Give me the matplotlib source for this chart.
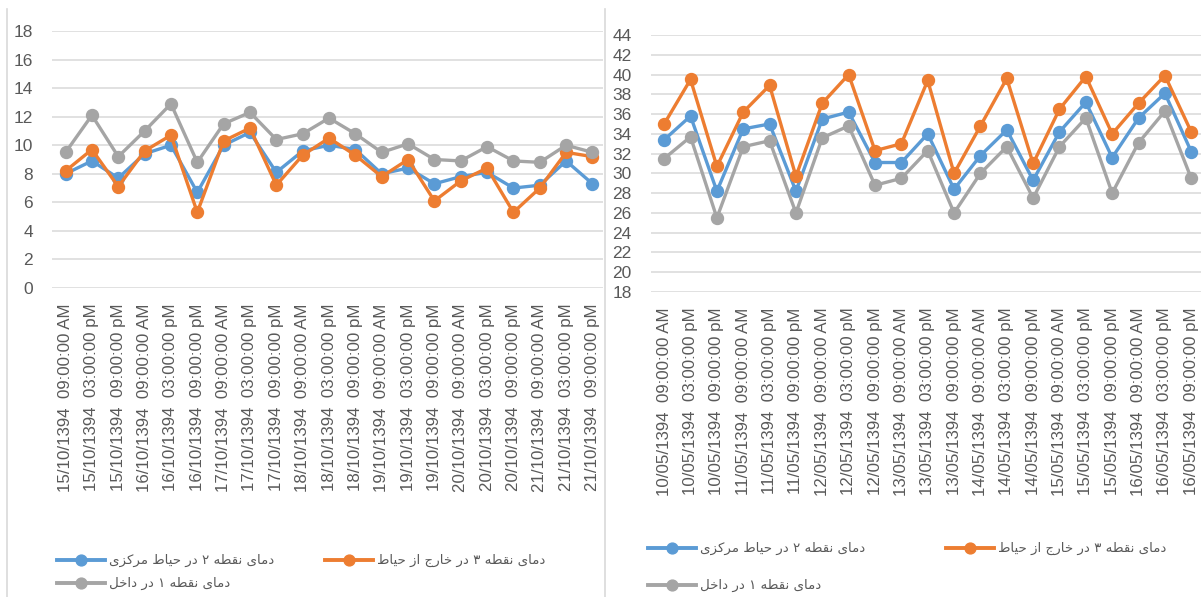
import matplotlib
matplotlib.use("Agg")
import matplotlib.pyplot as plt
from matplotlib.lines import Line2D
from matplotlib.patches import Rectangle

# ---------------- data ----------------
left_labels = [
    "15/10/1394  09:00:00 AM", "15/10/1394  03:00:00 pM", "15/10/1394  09:00:00 pM",
    "16/10/1394  09:00:00 AM", "16/10/1394  03:00:00 pM", "16/10/1394  09:00:00 pM",
    "17/10/1394  09:00:00 AM", "17/10/1394  03:00:00 pM", "17/10/1394  09:00:00 pM",
    "18/10/1394  09:00:00 AM", "18/10/1394  03:00:00 pM", "18/10/1394  09:00:00 pM",
    "19/10/1394  09:00:00 AM", "19/10/1394  03:00:00 pM", "19/10/1394  09:00:00 pM",
    "20/10/1394  09:00:00 AM", "20/10/1394  03:00:00 pM", "20/10/1394  09:00:00 pM",
    "21/10/1394  09:00:00 AM", "21/10/1394  03:00:00 pM", "21/10/1394  09:00:00 pM",
]
left_p2 = [8.0, 8.9, 7.7, 9.4, 10.0, 6.7, 10.0, 10.9, 8.1, 9.6, 10.0,
           9.7, 8.0, 8.4, 7.3, 7.8, 8.1, 7.0, 7.2, 8.9, 7.3]
left_p3 = [8.2, 9.7, 7.1, 9.6, 10.7, 5.3, 10.3, 11.2, 7.2, 9.3, 10.5,
           9.3, 7.8, 9.0, 6.1, 7.5, 8.4, 5.3, 7.0, 9.5, 9.2]
left_p1 = [9.5, 12.1, 9.2, 11.0, 12.9, 8.8, 11.5, 12.3, 10.4, 10.8, 11.9,
           10.8, 9.5, 10.1, 9.0, 8.9, 9.9, 8.9, 8.8, 10.0, 9.5]

right_labels = [
    "10/05/1394  09:00:00 AM", "10/05/1394  03:00:00 pM", "10/05/1394  09:00:00 pM",
    "11/05/1394  09:00:00 AM", "11/05/1394  03:00:00 pM", "11/05/1394  09:00:00 pM",
    "12/05/1394  09:00:00 AM", "12/05/1394  03:00:00 pM", "12/05/1394  09:00:00 pM",
    "13/05/1394  09:00:00 AM", "13/05/1394  03:00:00 pM", "13/05/1394  09:00:00 pM",
    "14/05/1394  09:00:00 AM", "14/05/1394  03:00:00 pM", "14/05/1394  09:00:00 pM",
    "15/05/1394  09:00:00 AM", "15/05/1394  03:00:00 pM", "15/05/1394  09:00:00 pM",
    "16/05/1394  09:00:00 AM", "16/05/1394  03:00:00 pM", "16/05/1394  09:00:00 pM",
]
right_p2 = [33.4, 35.8, 28.2, 34.5, 35.0, 28.2, 35.5, 36.2, 31.1, 31.1, 34.0,
            28.4, 31.8, 34.4, 29.3, 34.2, 37.2, 31.6, 35.6, 38.1, 32.2]
right_p3 = [35.0, 39.5, 30.7, 36.2, 38.9, 29.7, 37.1, 40.0, 32.3, 33.0, 39.4,
            30.0, 34.8, 39.6, 31.0, 36.5, 39.8, 34.0, 37.1, 39.9, 34.2]
right_p1 = [31.5, 33.7, 25.5, 32.7, 33.3, 26.0, 33.6, 34.8, 28.8, 29.5, 32.3,
            26.0, 30.0, 32.7, 27.5, 32.7, 35.6, 28.0, 33.1, 36.3, 29.5]

left_yticks = list(range(0, 19, 2))
right_yticks = list(range(18, 45, 2))

series_names = ["دمای نقطه ۲ در حیاط مرکزی", "دمای نقطه ۳ در خارج از حیاط", "دمای نقطه ۱ در داخل"]
series_colors = ["#5B9BD5", "#ED7D31", "#A5A5A5"]

# ---------------- minimal Persian shaping (logical -> visual) ----------------
FORMS = {
    '\u0627': ('\uFE8D', '\uFE8E', None, None),
    '\u062F': ('\uFEA9', '\uFEAA', None, None),
    '\u0631': ('\uFEAD', '\uFEAE', None, None),
    '\u0632': ('\uFEAF', '\uFEB0', None, None),
    '\u0645': ('\uFEE1', '\uFEE2', '\uFEE3', '\uFEE4'),
    '\u06CC': ('\uFBFC', '\uFBFD', '\uFBFE', '\uFBFF'),
    '\u0646': ('\uFEE5', '\uFEE6', '\uFEE7', '\uFEE8'),
    '\u0642': ('\uFED5', '\uFED6', '\uFED7', '\uFED8'),
    '\u0637': ('\uFEC1', '\uFEC2', '\uFEC3', '\uFEC4'),
    '\u0647': ('\uFEE9', '\uFEEA', '\uFEEB', '\uFEEC'),
    '\u062D': ('\uFEA1', '\uFEA2', '\uFEA3', '\uFEA4'),
    '\u06A9': ('\uFB8E', '\uFB8F', '\uFB90', '\uFB91'),
    '\u062E': ('\uFEA5', '\uFEA6', '\uFEA7', '\uFEA8'),
    '\u062C': ('\uFE9D', '\uFE9E', '\uFE9F', '\uFEA0'),
    '\u0644': ('\uFEDD', '\uFEDE', '\uFEDF', '\uFEE0'),
}


def shape(s):
    out = []
    n = len(s)
    for i, c in enumerate(s):
        if c not in FORMS:
            out.append(c)
            continue
        f = FORMS[c]
        prev = s[i - 1] if i > 0 else ''
        nxt = s[i + 1] if i + 1 < n else ''
        jp = prev in FORMS and FORMS[prev][2] is not None
        jn = f[2] is not None and nxt in FORMS
        if jp and jn:
            out.append(f[3])
        elif jp:
            out.append(f[1])
        elif jn:
            out.append(f[2])
        else:
            out.append(f[0])
    return ''.join(out)[::-1]


# ---------------- figure ----------------
W, H = 1201, 597
fig = plt.figure(figsize=(W / 100, H / 100), dpi=100)
fig.patch.set_facecolor("white")

TICK_COLOR = "#595959"
GRID_COLOR = "#D9D9D9"
FONT = "Liberation Sans"


def px_axes(l, r, top, bottom):
    return [l / W, 1 - bottom / H, (r - l) / W, (bottom - top) / H]


def style_axes(ax, labels, yticks, ylim, xmax):
    ax.set_xlim(-0.5, xmax)
    ax.set_ylim(*ylim)
    ax.set_yticks(yticks)
    ax.set_xticks(range(len(labels)))
    ax.set_xticklabels(labels, rotation=90, va="top", ha="center",
                       fontsize=12.2, family=FONT, color=TICK_COLOR)
    for t in ax.get_yticklabels():
        t.set_fontsize(12.5)
        t.set_family(FONT)
        t.set_color(TICK_COLOR)
    ax.tick_params(axis="x", length=0, pad=11)
    ax.tick_params(axis="y", length=0, pad=14)
    ax.grid(axis="y", color=GRID_COLOR, linewidth=1.1)
    ax.set_axisbelow(True)
    for sp in ax.spines.values():
        sp.set_visible(False)


def plot_series(ax, p2, p3, p1):
    x = range(len(p2))
    for vals, col in zip([p2, p3, p1], series_colors):
        ax.plot(x, vals, color=col, linewidth=2.4, marker="o", markersize=8.6,
                markerfacecolor=col, markeredgecolor=col, solid_joinstyle="miter")


# left chart
axL = fig.add_axes(px_axes(52.4, 603, 31, 288))
axL.set_zorder(1)
plot_series(axL, left_p2, left_p3, left_p1)
style_axes(axL, left_labels, left_yticks, (0, 18), 20.4)

# white separator covering between charts
fig.add_artist(Rectangle((603 / W, 0), (651 - 603) / W, 1, transform=fig.transFigure,
                         facecolor="white", edgecolor="none", zorder=2))

# right chart
axR = fig.add_axes(px_axes(651, 1201, 35, 292))
axR.set_zorder(3)
plot_series(axR, right_p2, right_p3, right_p1)
style_axes(axR, right_labels, right_yticks, (18, 44), 20.37)

# chart borders
for xb in (6.7, 605):
    fig.add_artist(Line2D([xb / W, xb / W], [0, 1 - 9 / H], transform=fig.transFigure,
                          color="#D9D9D9", linewidth=1.2, zorder=4))


# ---------------- legends ----------------
def legend_entry(x0, y, color, text):
    xs = [x0 / W, (x0 + 48) / W]
    yy = 1 - y / H
    fig.add_artist(Line2D(xs, [yy, yy], transform=fig.transFigure, color=color,
                          linewidth=2.8, zorder=5))
    fig.add_artist(Line2D([(x0 + 24) / W], [yy], transform=fig.transFigure, color=color,
                          marker="o", markersize=7.8, zorder=6))
    fig.text((x0 + 52) / W, yy, shape(text), ha="left", va="center", fontsize=9.6,
             family=["DejaVu Sans"], color=TICK_COLOR, zorder=6)


legend_entry(57, 560, series_colors[0], series_names[0])
legend_entry(325, 560, series_colors[1], series_names[1])
legend_entry(57, 583, series_colors[2], series_names[2])

legend_entry(648, 548, series_colors[0], series_names[0])
legend_entry(946, 548, series_colors[1], series_names[1])
legend_entry(648, 585, series_colors[2], series_names[2])

fig.savefig("out.png", dpi=100, facecolor="white")
